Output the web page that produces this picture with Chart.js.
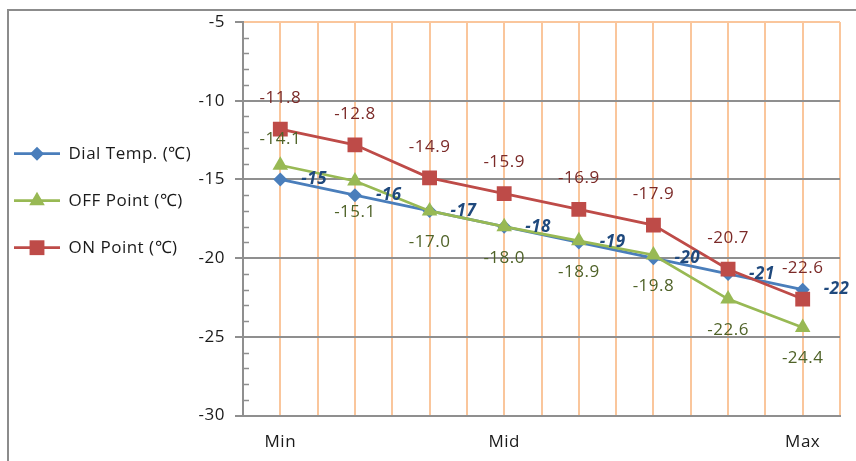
<!DOCTYPE html>
<html>
<head>
<meta charset="utf-8">
<script src="https://cdn.jsdelivr.net/npm/chart.js@4.4.1/dist/chart.umd.min.js"></script>
<style>
  html, body { margin: 0; padding: 0; background: #fff; }
  #wrap { position: relative; width: 856px; height: 461px; overflow: hidden; }
  #frame { position: absolute; left: 7px; top: 9px; width: 900px; height: 500px;
           border-left: 2px solid #8c8c8c; border-top: 2px solid #8c8c8c; }
  #chart { position: absolute; left: 0; top: 0; }
</style>
</head>
<body>
<div id="wrap">
  <div id="frame"></div>
  <canvas id="chart" width="856" height="461"></canvas>
</div>
<script>
// ---- data ----
const categories = ['Min', '', '', 'Mid', '', '', '', 'Max'];
const dialTemp = [-15, -16, -17, -18, -19, -20, -21, -22];
const offPoint = [-14.1, -15.1, -17.0, -18.0, -18.9, -19.8, -22.6, -24.4];
const onPoint = [-11.8, -12.8, -14.9, -15.9, -16.9, -17.9, -20.7, -22.6];
const yMin = -30;
const yMax = -5;
const yStep = 5;

const FONT = "'Open Sans', 'Liberation Sans', sans-serif";
const FONT_SIZE = 17;
const TEXT = '#1a1a1a';
const AXIS_GRAY = '#8f8f8f';
const GRID_ORANGE = '#fac69c';
const PLOT_LEFT = 243;
const PAD = { left: -16, right: 16, top: 22, bottom: -7 };

// how each series writes its value labels
const labelStyle = [
  { color: '#1f497d', font: `italic bold ${FONT_SIZE}px ${FONT}`, decimals: 0, place: () => 'right' },
  { color: '#4f6228', font: `${FONT_SIZE}px ${FONT}`, decimals: 1, place: (i) => (i === 0 ? 'above' : 'below') },
  { color: '#7b2a28', font: `${FONT_SIZE}px ${FONT}`, decimals: 1, place: () => 'above' },
];

// a touch of letter spacing so the text widths come closer to the original
const textSpacing = {
  id: 'textSpacing',
  beforeUpdate(chart) { chart.ctx.letterSpacing = '0.5px'; },
  beforeDraw(chart) { chart.ctx.letterSpacing = '0.5px'; },
};

// value labels next to the points
const pointLabels = {
  id: 'pointLabels',
  afterDatasetsDraw(chart) {
    const ctx = chart.ctx;
    chart.data.datasets.forEach((ds, di) => {
      const st = labelStyle[di];
      const meta = chart.getDatasetMeta(di);
      ctx.save();
      ctx.font = st.font;
      ctx.fillStyle = st.color;
      ctx.textBaseline = 'middle';
      meta.data.forEach((pt, i) => {
        const text = ds.data[i].toFixed(st.decimals);
        const where = st.place(i);
        if (where === 'right') {
          ctx.textAlign = 'left';
          ctx.fillText(text, pt.x + 21, pt.y);
        } else if (where === 'above') {
          ctx.textAlign = 'center';
          ctx.fillText(text, pt.x, pt.y - (di === 1 ? 26 : 31));
        } else {
          ctx.textAlign = 'center';
          ctx.fillText(text, pt.x, pt.y + 31);
        }
      });
      ctx.restore();
    });
  },
};

// small inner tick marks on the value axis, one per unit
const minorTicks = {
  id: 'minorTicks',
  beforeDatasetsDraw(chart) {
    const y = chart.scales.y;
    const left = chart.chartArea.left;
    const ctx = chart.ctx;
    ctx.save();
    ctx.strokeStyle = AXIS_GRAY;
    ctx.lineWidth = 1.5;
    for (let v = Math.ceil(y.min); v <= y.max; v++) {
      if (v % yStep === 0) continue;
      const py = Math.round(y.getPixelForValue(v)) + 0.5;
      ctx.beginPath();
      ctx.moveTo(left, py);
      ctx.lineTo(left + 6, py);
      ctx.stroke();
    }
    ctx.restore();
  },
};

// legend entries drawn as line + marker like the series
const legendMarkers = {
  id: 'legendMarkers',
  afterDraw(chart) {
    const legend = chart.legend;
    const ctx = chart.ctx;
    const boxW = legend.options.labels.boxWidth;
    const size = legend.options.labels.font.size;
    legend.legendItems.forEach((item, i) => {
      const hb = legend.legendHitBoxes[i];
      const ds = chart.data.datasets[item.datasetIndex];
      const cy = hb.top + size / 2;
      ctx.save();
      ctx.strokeStyle = ds.borderColor;
      ctx.fillStyle = ds.pointBackgroundColor;
      ctx.lineWidth = ds.borderWidth;
      ctx.beginPath();
      ctx.moveTo(hb.left, cy);
      ctx.lineTo(hb.left + boxW, cy);
      ctx.stroke();
      Chart.helpers.drawPoint(ctx, {
        pointStyle: ds.pointStyle,
        radius: ds.pointRadius,
        rotation: 0,
        borderWidth: 0,
      }, hb.left + boxW / 2, cy);
      ctx.restore();
    });
  },
};

function series(label, data, color, style, radius, order) {
  return {
    label,
    data,
    order,
    borderColor: color,
    backgroundColor: color,
    pointBackgroundColor: color,
    pointBorderColor: color,
    borderWidth: 2.75,
    pointStyle: style,
    pointRadius: radius,
    pointBorderWidth: 0,
    pointHoverRadius: radius,
    tension: 0,
  };
}

new Chart(document.getElementById('chart'), {
  type: 'line',
  data: {
    labels: categories,
    datasets: [
      series('Dial Temp. (℃)', dialTemp, '#4a7ebb', 'rectRot', 7, 3),
      series('OFF Point (℃)', offPoint, '#98b954', 'triangle', 9, 2),
      series('ON Point (℃)', onPoint, '#be4b48', 'rect', 10.5, 1),
    ],
  },
  options: {
    responsive: false,
    animation: false,
    devicePixelRatio: 1,
    layout: { padding: PAD },
    plugins: {
      tooltip: { enabled: false },
      legend: {
        position: 'left',
        align: 'start',
        title: { display: true, text: ' ', font: { size: 1 }, padding: { top: 92, bottom: 0 } },
        labels: {
          boxWidth: 46,
          boxHeight: 3,
          padding: 30,
          color: TEXT,
          font: { family: FONT, size: FONT_SIZE },
          generateLabels(chart) {
            return Chart.defaults.plugins.legend.labels.generateLabels(chart)
              .sort((a, b) => a.datasetIndex - b.datasetIndex)
              .map((it) => ({
                ...it,
                fillStyle: 'rgba(0,0,0,0)',
                strokeStyle: 'rgba(0,0,0,0)',
                lineWidth: 0,
              }));
          },
        },
      },
    },
    scales: {
      x: {
        offset: true,
        grid: { offset: false, color: GRID_ORANGE, lineWidth: 2, drawTicks: false },
        border: { color: AXIS_GRAY, width: 2 },
        ticks: {
          autoSkip: false,
          maxRotation: 0,
          padding: 16,
          color: TEXT,
          font: { family: FONT, size: FONT_SIZE },
        },
      },
      x2: {
        type: 'category',
        position: 'bottom',
        offset: true,
        grid: { offset: true, color: GRID_ORANGE, lineWidth: 2, drawTicks: false },
        border: { display: false },
        ticks: { display: false },
      },
      y: {
        min: yMin,
        max: yMax,
        ticks: {
          stepSize: yStep,
          padding: 10,
          color: TEXT,
          font: { family: FONT, size: FONT_SIZE },
        },
        grid: {
          color: (c) => (c.tick && c.tick.value === yMax ? GRID_ORANGE : AXIS_GRAY),
          tickColor: AXIS_GRAY,
          lineWidth: 2,
          tickLength: 8,
        },
        border: { color: AXIS_GRAY, width: 2 },
        afterFit(scale) {
          scale.width = PLOT_LEFT - PAD.left - scale.chart.legend.width;
        },
      },
    },
  },
  plugins: [textSpacing, minorTicks, pointLabels, legendMarkers],
});
</script>
</body>
</html>
